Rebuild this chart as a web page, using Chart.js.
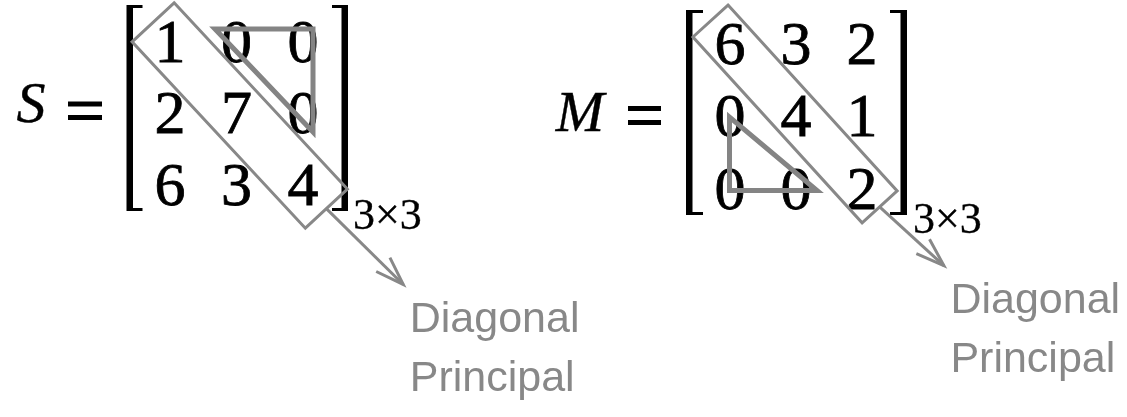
<!DOCTYPE html>
<html><head><meta charset="utf-8">
<script src="https://cdn.jsdelivr.net/npm/chart.js@4/dist/chart.umd.min.js"></script>
<style>html,body{margin:0;padding:0;background:#fff;overflow:hidden}#wrap{width:1127px;height:417px;position:relative}</style>
</head><body><div id="wrap"><canvas id="c"></canvas></div>
<script>
// ---- data ----
const MATRIX_NAMES = ['S', 'M'];
const S_VALUES = [[1, 0, 0], [2, 7, 0], [6, 3, 4]];
const M_VALUES = [[6, 3, 2], [0, 4, 1], [0, 0, 2]];
const SIZE_LABELS = ['3×3', '3×3'];
const CALLOUT_LINES = ['Diagonal', 'Principal'];
// cells whose zeros are highlighted by a triangle (row, col)
const S_ZERO_CELLS = [[0, 1], [0, 2], [1, 2]];
const M_ZERO_CELLS = [[1, 0], [2, 0], [2, 1]];

// ---- layout (positions in canvas units) ----
const GRAY = '#888888';
const LAYOUT = [
  { vals: S_VALUES, zeros: S_ZERO_CELLS, ox: 170, oy: 40.5, dx: 66.5, dy: 71.5,
    nameX: 31, nameBase: 122, eq: { x0: 68, x1: 102, y0: 104, y1: 117.5 },
    brL: 130.5, brR: 344, brT: 5, brB: 211, arm: 12,
    rect: { e0: 24.8, e1: 34.3, w: 28.7 },
    triPad: [[-21.5, -11.5], [10, -11.5], [10, 20]],
    arrow: { ang: 44.6, len: 108 }, subX: 353, subBase: 229 },
  { vals: M_VALUES, zeros: M_ZERO_CELLS, ox: 730, oy: 42.5, dx: 66, dy: 72.5,
    nameX: 580, nameBase: 131, eq: { x0: 628, x1: 661, y0: 108.5, y1: 122.5 },
    brL: 690, brR: 903, brT: 10, brB: 215, arm: 13,
    rect: { e0: 29, e1: 26.2, w: 23.7 },
    triPad: [[-0.5, 2], [-0.5, 3], [21, 3]],
    arrow: { ang: 42.4, len: 87 }, subX: 913, subBase: 233 }
];

function cell(L, r, c) { return { x: L.ox + c * L.dx, y: L.oy + r * L.dy }; }

const datasets = [];
const textItems = [];

LAYOUT.forEach((L, k) => {
  // digits as points
  const pts = [];
  L.vals.forEach((row, r) => row.forEach((v, c) => { const p = cell(L, r, c); pts.push({ x: p.x, y: p.y, v: v }); }));
  datasets.push({ label: 'cells' + k, data: pts, pointRadius: 0, showLine: false, isCells: true });

  // diagonal rectangle
  const a = cell(L, 0, 0), b = cell(L, 2, 2);
  const len = Math.hypot(b.x - a.x, b.y - a.y);
  const ux = (b.x - a.x) / len, uy = (b.y - a.y) / len;
  const vx = uy, vy = -ux;
  const s = { x: a.x - ux * L.rect.e0, y: a.y - uy * L.rect.e0 };
  const e = { x: b.x + ux * L.rect.e1, y: b.y + uy * L.rect.e1 };
  const w = L.rect.w;
  const rect = [
    { x: s.x + vx * w, y: s.y + vy * w },
    { x: e.x + vx * w, y: e.y + vy * w },
    { x: e.x - vx * w, y: e.y - vy * w },
    { x: s.x - vx * w, y: s.y - vy * w }
  ];
  rect.push(rect[0], rect[1]);
  datasets.push({ label: 'diag' + k, data: rect, borderColor: GRAY, borderWidth: 3, showLine: true, pointRadius: 0 });

  // zero triangle
  const tri = L.zeros.map((rc, i) => { const p = cell(L, rc[0], rc[1]); return { x: p.x + L.triPad[i][0], y: p.y + L.triPad[i][1] }; });
  tri.push(tri[0], tri[1]);
  datasets.push({ label: 'tri' + k, data: tri, borderColor: '#848484', borderWidth: 5, showLine: true, pointRadius: 0 });

  // arrow
  const ang = L.arrow.ang * Math.PI / 180;
  const tip = { x: e.x + Math.cos(ang) * L.arrow.len, y: e.y + Math.sin(ang) * L.arrow.len };
  datasets.push({ label: 'arrow' + k, data: [e, tip], borderColor: GRAY, borderWidth: 3, showLine: true, pointRadius: 0 });
  const hl = 30, ha = 19 * Math.PI / 180;
  const w1 = { x: tip.x - Math.cos(ang - ha) * hl, y: tip.y - Math.sin(ang - ha) * hl };
  const w2 = { x: tip.x - Math.cos(ang + ha) * hl, y: tip.y - Math.sin(ang + ha) * hl };
  datasets.push({ label: 'head' + k, data: [w1, tip, w2], borderColor: GRAY, borderWidth: 3, showLine: true, pointRadius: 0 });

  // equals sign bars
  datasets.push({ label: 'eqA' + k, data: [{ x: L.eq.x0, y: L.eq.y0 }, { x: L.eq.x1, y: L.eq.y0 }], borderColor: '#000', borderWidth: 5, showLine: true, pointRadius: 0 });
  datasets.push({ label: 'eqB' + k, data: [{ x: L.eq.x0, y: L.eq.y1 }, { x: L.eq.x1, y: L.eq.y1 }], borderColor: '#000', borderWidth: 5, showLine: true, pointRadius: 0 });

  // brackets
  datasets.push({ label: 'brLs' + k, data: [{ x: L.brL, y: L.brT }, { x: L.brL, y: L.brB }], borderColor: '#000', borderWidth: 5, showLine: true, pointRadius: 0 });
  datasets.push({ label: 'brLa' + k, data: [{ x: L.brL + L.arm, y: L.brT + 1.5 }, { x: L.brL - 2.5, y: L.brT + 1.5 }, { x: L.brL - 2.5, y: L.brB - 1.5 }, { x: L.brL + L.arm, y: L.brB - 1.5 }], borderColor: '#000', borderWidth: 3, showLine: true, pointRadius: 0 });
  datasets.push({ label: 'brRs' + k, data: [{ x: L.brR, y: L.brT }, { x: L.brR, y: L.brB }], borderColor: '#000', borderWidth: 5, showLine: true, pointRadius: 0 });
  datasets.push({ label: 'brRa' + k, data: [{ x: L.brR - L.arm, y: L.brT + 1.5 }, { x: L.brR + 2.5, y: L.brT + 1.5 }, { x: L.brR + 2.5, y: L.brB - 1.5 }, { x: L.brR - L.arm, y: L.brB - 1.5 }], borderColor: '#000', borderWidth: 3, showLine: true, pointRadius: 0 });

  // texts
  textItems.push({ t: MATRIX_NAMES[k], x: L.nameX, y: L.nameBase, font: 'italic 58px "Liberation Serif"', color: '#000', align: 'center', stroke: 0.4 });
  textItems.push({ t: SIZE_LABELS[k], x: L.subX, y: L.subBase, font: '44px "Liberation Serif"', color: '#000', align: 'left', stroke: 0.3 });
  CALLOUT_LINES.forEach((line, i) => {
    textItems.push({ t: line, x: tip.x + 6.5, y: tip.y + 47.5 + i * 59, font: '43px "Liberation Sans"', color: GRAY, align: 'left', stroke: 0 });
  });
});

const textPlugin = {
  id: 'texts',
  beforeDatasetsDraw(chart) {
    const ctx = chart.ctx, xs = chart.scales.x, ys = chart.scales.y;
    ctx.save();
    ctx.textBaseline = 'alphabetic';
    ctx.lineJoin = 'miter';
    textItems.forEach(it => {
      ctx.font = it.font; ctx.fillStyle = it.color; ctx.textAlign = it.align;
      const px = xs.getPixelForValue(it.x), py = ys.getPixelForValue(it.y);
      ctx.fillText(it.t, px, py);
      if (it.stroke) { ctx.lineWidth = it.stroke; ctx.strokeStyle = it.color; ctx.strokeText(it.t, px, py); }
    });
    chart.data.datasets.forEach((ds, i) => {
      if (!ds.isCells) return;
      const meta = chart.getDatasetMeta(i);
      ctx.font = '62px "Liberation Serif"'; ctx.fillStyle = '#000'; ctx.textAlign = 'center';
      ctx.strokeStyle = '#000'; ctx.lineWidth = 0.8;
      meta.data.forEach((el, j) => {
        ctx.fillText(String(ds.data[j].v), el.x, el.y + 21);
        ctx.strokeText(String(ds.data[j].v), el.x, el.y + 21);
      });
    });
    ctx.restore();
  }
};

new Chart(document.getElementById('c'), {
  type: 'scatter',
  data: { datasets: datasets.map(d => Object.assign({ fill: false, tension: 0, borderJoinStyle: 'miter', borderCapStyle: 'butt', backgroundColor: 'transparent' }, d)) },
  options: {
    responsive: true, maintainAspectRatio: false, animation: false,
    layout: { padding: 0 },
    events: [],
    scales: {
      x: { type: 'linear', min: 0, max: 1127, display: false },
      y: { type: 'linear', min: 0, max: 417, reverse: true, display: false }
    },
    plugins: { legend: { display: false }, tooltip: { enabled: false } }
  },
  plugins: [textPlugin]
});
</script>
</body></html>
